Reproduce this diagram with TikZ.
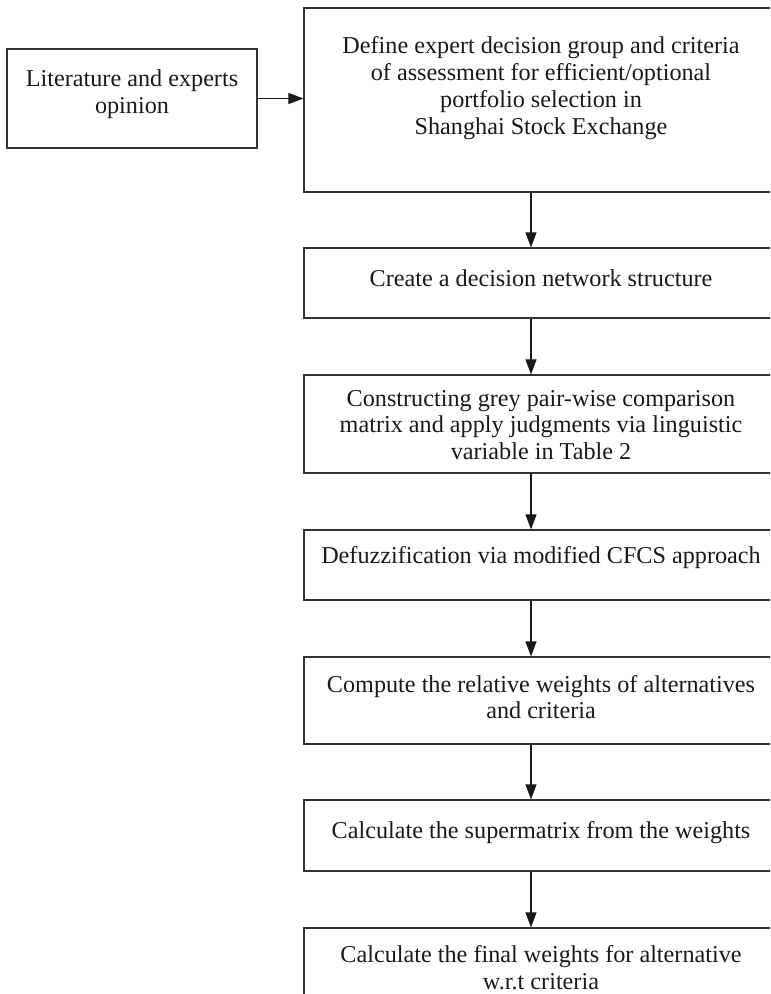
\documentclass[tikz,border=0pt]{standalone}
\usepackage{fontspec}
\setmainfont{Liberation Serif}
\usetikzlibrary{arrows.meta,fit}
\begin{document}
\begin{tikzpicture}[x=0.5pt,y=-0.5pt,
  box/.style={draw=black!80, line width=0.6pt, inner sep=0pt},
  txt/.style={align=center, inner sep=0pt, text=black!90, font=\fontsize{12.1}{13.4}\selectfont},
  arr/.style={draw=black!90, line width=0.55pt, -{Triangle[length=7.5pt,width=5.5pt]}}]
\useasboundingbox (0,0) rectangle (770,994);
\clip (0,0) rectangle (770,994);
% left box
\node[box, fit={(7,49) (257,148)}] (l) {};
\node[txt] (lt) at (132,94) {Literature and experts\\opinion};
% main boxes
\node[box, fit={(304,8) (800,192)}] (b1) {};
\node[txt] (t1) at (541,88) {Define expert decision group and criteria\\of assessment for efficient/optional\\portfolio selection in\\Shanghai Stock Exchange};
\node[box, fit={(304,248) (800,318)}] (b2) {};
\node[txt] (t2) at (541,278) {Create a decision network structure};
\node[box, fit={(304,375) (800,473)}] (b3) {};
\node[txt] (t3) at (541,425) {Constructing grey pair-wise comparison\\matrix and apply judgments via linguistic\\variable in Table 2};
\node[box, fit={(304,530) (800,600)}] (b4) {};
\node[txt] (t4) at (541,558) {Defuzzification via modified CFCS approach};
\node[box, fit={(304,657) (800,744)}] (b5) {};
\node[txt] (t5) at (541,697) {Compute the relative weights of alternatives\\and criteria};
\node[box, fit={(304,800) (800,871)}] (b6) {};
\node[txt] (t6) at (541,833) {Calculate the supermatrix from the weights};
\node[box, fit={(304,928) (800,1020)}] (b7) {};
\node[txt] (t7) at (541,968) {Calculate the final weights for alternative\\w.r.t criteria};
% connectors
\coordinate (ax) at (531,0);
\draw[arr] (l.east) -- (l.east -| b1.west);
\draw[arr] (b1.south -| ax) -- (b2.north -| ax);
\draw[arr] (b2.south -| ax) -- (b3.north -| ax);
\draw[arr] (b3.south -| ax) -- (b4.north -| ax);
\draw[arr] (b4.south -| ax) -- (b5.north -| ax);
\draw[arr] (b5.south -| ax) -- (b6.north -| ax);
\draw[arr] (b6.south -| ax) -- (b7.north -| ax);
\end{tikzpicture}
\end{document}
